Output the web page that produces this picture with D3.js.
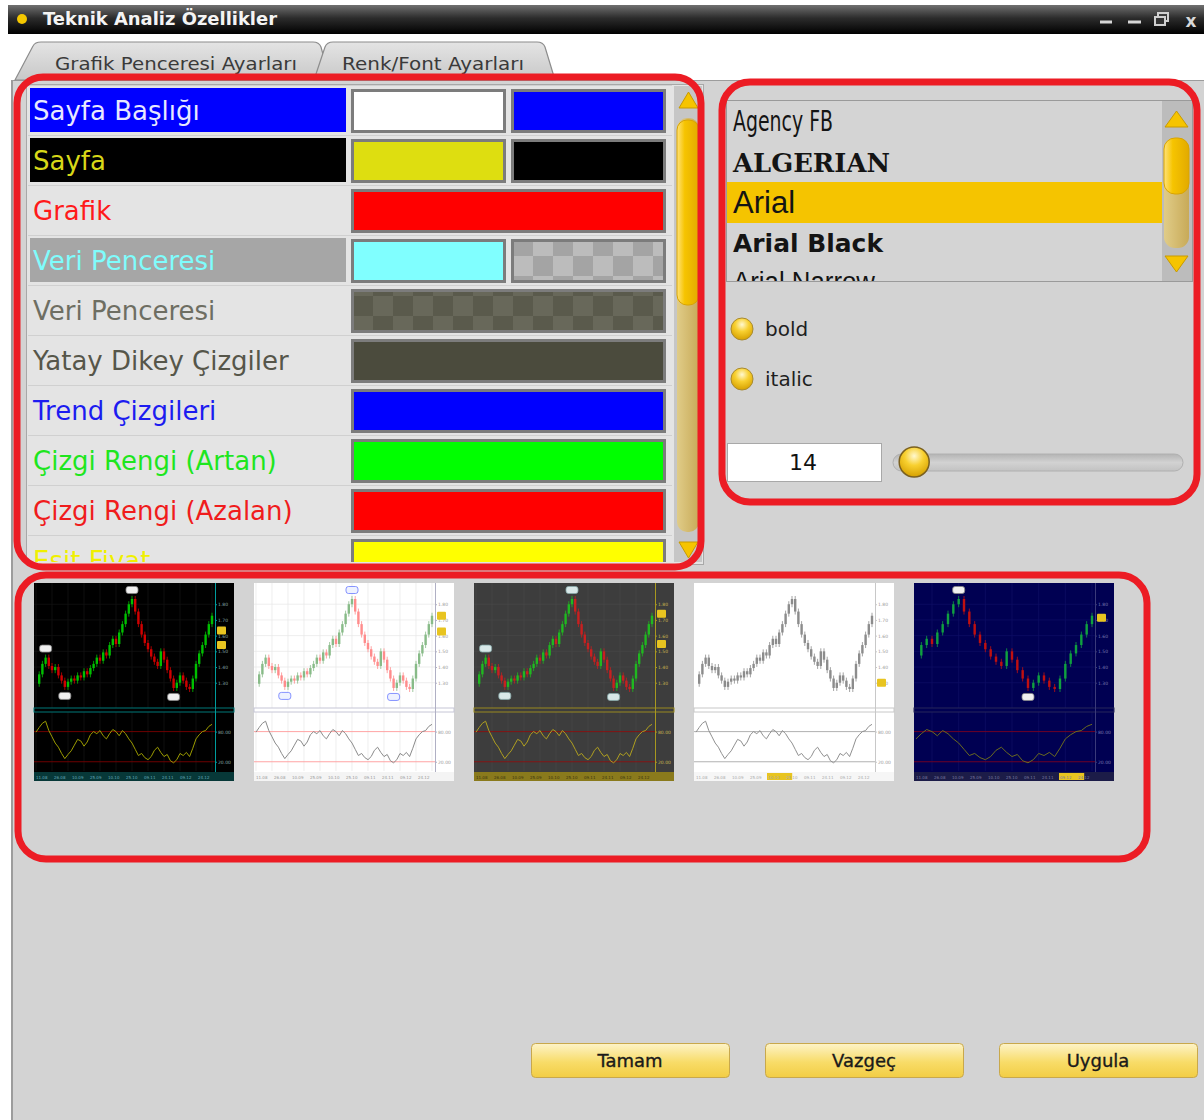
<!DOCTYPE html>
<html><head><meta charset="utf-8">
<script src="https://cdn.jsdelivr.net/npm/d3@7"></script>
<style>body{margin:0;background:#fff}svg{display:block}</style>
</head><body>
<svg id="c" width="1204" height="1120"></svg>
<script>
// ---------------- DATA ----------------
const windowTitle = "Teknik Analiz Özellikler";
const tabLabels = ["Grafik Penceresi Ayarları", "Renk/Font Ayarları"];
const rowLabels = ["Sayfa Başlığı","Sayfa","Grafik","Veri Penceresi","Veri Penceresi","Yatay Dikey Çizgiler","Trend Çizgileri","Çizgi Rengi (Artan)","Çizgi Rengi (Azalan)","Eşit Fiyat"];
const rowTextColors = ["#e8e8ff","#d8d818","#ff1a1a","#7ffcfc","#6e6e62","#56564a","#1c1cf0","#1ee61e","#f01c1c","#f0f000"];
const rowLabelFills = ["#0000ff","#000000",null,"#a6a6a6",null,null,null,null,null,null];
const swatchA = ["#ffffff","#dede10","#ff0000","#80ffff","url(#checkDark)","#4b4b3d","#0000ff","#00ff00","#ff0000","#ffff00"];
const swatchB = ["#0000ff","#000000",null,"url(#checkLight)",null,null,null,null,null,null];
const fontNames = ["Agency FB","ALGERIAN","Arial","Arial Black","Arial Narrow"];
const selectedFont = "Arial";
const styleOptions = ["bold","italic"];
const fontSizeValue = 14;
const fontSizeRange = [12, 96];
const buttonLabels = ["Tamam","Vazgeç","Uygula"];

const price = [19,28,38,44,36,32,35,27,22,16,21,24,22,27,25,31,28,34,38,44,41,49,46,56,62,57,68,76,86,95,100,88,76,66,58,52,45,40,36,50,42,32,24,15,20,27,22,16,14,24,38,48,56,66,76,84];
const oscillator = [69,78,86,90,72,60,48,40,28,18,26,33,44,55,52,42,50,64,70,66,72,62,56,66,74,70,62,72,66,56,48,36,24,28,20,16,22,34,40,30,22,26,14,10,16,28,24,30,22,38,56,64,70,72,80,84];
const oscLevels = [70, 12];
const oscLevelLabels = ["80.00","20.00"];
const priceTickValues = [20,35,50,65,80,95];
const priceTickLabels = ["1.30","1.40","1.50","1.60","1.70","1.80"];
const dateLabels = ["11.08","26.08","10.09","25.09","10.10","25.10","09.11","24.11","09.12","24.12"];

const thumbThemes = [
  {bg:"#000000",grid:"#141414",up:"#00c000",down:"#d00000",sep:"#007878",axis:"#009c9c",osc:"#9c9c00",ref:"#7a0000",strip:"#073838",stripText:"#6ab",text:"#8aa",mark:"#f0f0f0",markStroke:"#888",start:0,markers:[3,9,30,43],tags:[70,56],hl:-1},
  {bg:"#ffffff",grid:"#e6e6e6",up:"#88bb88",down:"#ff8c8c",sep:"#c6c6d6",axis:"#b0b0c4",osc:"#8a8a8a",ref:"#ff9a9a",strip:"#f4f4f4",stripText:"#999",text:"#999",mark:"#eef2ff",markStroke:"#6a7aff",start:0,markers:[9,30,43],tags:[84,69],hl:-1},
  {bg:"#3d3d3d",grid:"#474747",up:"#20b820",down:"#c82020",sep:"#9a8a20",axis:"#a89820",osc:"#b0a020",ref:"#8a1010",strip:"#8a7a1c",stripText:"#3a3410",text:"#c8b850",mark:"#d8e8e8",markStroke:"#8aa",start:0,markers:[3,9,30,43],tags:[86,57],hl:-1},
  {bg:"#ffffff",grid:null,up:"#8c8c8c",down:"#8c8c8c",sep:"#c8c8c8",axis:"#c8c8c8",osc:"#909090",ref:"#a8a8a8",strip:"#f6f6f6",stripText:"#aaa",text:"#999",mark:"#fff",markStroke:"#999",start:0,markers:[],tags:[20],hl:4},
  {bg:"#000052",grid:"#0e0e66",up:"#10a040",down:"#c01010",sep:"#26265a",axis:"#3a3a7a",osc:"#6a6a20",ref:"#7a0020",strip:"#1c1c48",stripText:"#7a7aa0",text:"#7a7ab0",mark:"#f0f0f0",markStroke:"#888",start:22,markers:[30,43],tags:[82],hl:8}
];

// ---------------- HELPERS ----------------
const svg = d3.select("#c");
const defs = svg.append("defs");
function linGrad(id, stops, horiz) {
  const g = defs.append("linearGradient").attr("id", id)
    .attr("x1",0).attr("y1",0).attr("x2",horiz?1:0).attr("y2",horiz?0:1);
  stops.forEach(([o,c]) => g.append("stop").attr("offset",o).attr("stop-color",c));
}
linGrad("gTitle",[[0,"#707070"],[0.45,"#2c2c2c"],[1,"#000000"]]);
linGrad("gTab",[[0,"#e4e4e4"],[1,"#c8c8c8"]]);
linGrad("gBtn",[[0,"#fdf3c8"],[0.55,"#f8dc68"],[1,"#f2cd44"]]);
linGrad("gThumb",[[0,"#ffe27a"],[0.35,"#f6c400"],[1,"#e2aa00"]],true);
linGrad("gTrack",[[0,"#e0cc88"],[1,"#c8aa58"]],true);
linGrad("gSlider",[[0,"#b4b4b4"],[0.5,"#d2d2d2"],[1,"#c2c2c2"]]);
const rg = defs.append("radialGradient").attr("id","gKnob").attr("cx",0.5).attr("cy",0.3).attr("r",0.7);
[[0,"#fff8d0"],[0.45,"#f8d030"],[1,"#d6a000"]].forEach(([o,c])=>rg.append("stop").attr("offset",o).attr("stop-color",c));

function checker(id, c1, c2, x0, y0) {
  const p = defs.append("pattern").attr("id",id).attr("patternUnits","userSpaceOnUse")
    .attr("x",x0).attr("y",y0).attr("width",40).attr("height",40);
  p.append("rect").attr("width",40).attr("height",40).attr("fill",c1);
  p.append("rect").attr("x",20).attr("width",20).attr("height",20).attr("fill",c2);
  p.append("rect").attr("y",20).attr("width",20).attr("height",20).attr("fill",c2);
}
checker("checkLight","#a4a4a4","#bcbcbc",513,241);
checker("checkDark","#5a5a4c","#68685a",353,291);

// ---------------- WINDOW ----------------
svg.append("rect").attr("width",1204).attr("height",1120).attr("fill","#ffffff");
svg.append("rect").attr("x",8).attr("y",5).attr("width",1196).attr("height",29).attr("fill","url(#gTitle)");
svg.append("circle").attr("cx",22).attr("cy",19).attr("r",5).attr("fill","#f5c800");
svg.append("text").attr("x",43).attr("y",25).text(windowTitle)
  .attr("font-family","DejaVu Sans").attr("font-weight","bold").attr("font-size",17).attr("fill","#f4f4f4")
  .attr("textLength",234).attr("lengthAdjust","spacingAndGlyphs");
// window controls
[[1100,1112],[1128,1141]].forEach(([a,b])=>svg.append("line").attr("x1",a).attr("x2",b).attr("y1",22).attr("y2",22).attr("stroke","#d8d8d8").attr("stroke-width",3));
svg.append("rect").attr("x",1158).attr("y",13).attr("width",10).attr("height",8).attr("fill","none").attr("stroke","#d0d0d0").attr("stroke-width",2);
svg.append("rect").attr("x",1155).attr("y",17).attr("width",10).attr("height",8).attr("fill","#333").attr("stroke","#d0d0d0").attr("stroke-width",2);
svg.append("text").attr("x",1191).attr("y",27).attr("text-anchor","middle").text("x")
  .attr("font-family","DejaVu Sans").attr("font-weight","bold").attr("font-size",17).attr("fill","#d8d8d8");

// main panel
svg.append("rect").attr("x",12).attr("y",80).attr("width",1192).attr("height",1040).attr("fill","#d3d3d3");
svg.append("line").attr("x1",12).attr("x2",1204).attr("y1",80.5).attr("y2",80.5).attr("stroke","#9c9c9c");
svg.append("line").attr("x1",12).attr("x2",12).attr("y1",80).attr("y2",1120).attr("stroke","#9c9c9c").attr("stroke-width",2);

// tabs
const tabPaths = ["M15,80 L33,46 Q35,42 41,42 L313,42 Q319,42 321,47 L330,80 Z",
                  "M314,80 L325,47 Q327,42 333,42 L537,42 Q543,42 545,47 L555,80 Z"];
const tabTextX = [55, 342];
const tabTextLen = [242, 182];
tabLabels.forEach((t,i)=>{
  svg.append("path").attr("d",tabPaths[i]).attr("fill","url(#gTab)").attr("stroke","#8c8c8c").attr("stroke-width",1.2);
  svg.append("text").attr("x",tabTextX[i]).attr("y",70).text(t)
    .attr("font-family","DejaVu Sans").attr("font-size",18).attr("fill","#3a3a3a")
    .attr("textLength",tabTextLen[i]).attr("lengthAdjust","spacingAndGlyphs");
});

// ---------------- COLOR LIST ----------------
const listClip = defs.append("clipPath").attr("id","listClip");
listClip.append("rect").attr("x",27).attr("y",85).attr("width",646).attr("height",477);
svg.append("rect").attr("x",26.5).attr("y",84.5).attr("width",677).attr("height",480).attr("fill","#e4e4e4").attr("stroke","#a8a8a8");
const rowY = d3.scaleBand().domain(d3.range(rowLabels.length)).range([85, 85 + 50*rowLabels.length]);
const list = svg.append("g").attr("clip-path","url(#listClip)");
const rows = list.selectAll("g.row").data(rowLabels).join("g").attr("class","row")
  .attr("transform",(d,i)=>`translate(0,${rowY(i)})`);
rows.each(function(d,i){
  const g = d3.select(this);
  g.append("line").attr("x1",28).attr("x2",672).attr("y1",0.5).attr("y2",0.5).attr("stroke","#d0d0d0");
  if (rowLabelFills[i]) g.append("rect").attr("x",30).attr("y",3).attr("width",316).attr("height",44).attr("fill",rowLabelFills[i]);
  const wA = swatchB[i] ? 155 : 315;
  g.append("rect").attr("x",352.5).attr("y",5.5).attr("width",wA-3).attr("height",41)
    .attr("fill",swatchA[i]).attr("stroke","#7c7c7c").attr("stroke-width",3);
  if (swatchB[i]) g.append("rect").attr("x",512.5).attr("y",5.5).attr("width",152).attr("height",41)
    .attr("fill",swatchB[i]).attr("stroke","#7c7c7c").attr("stroke-width",3);
  g.append("text").attr("x",33).attr("y",35).text(d)
    .attr("font-family","DejaVu Sans").attr("font-size",26).attr("fill",rowTextColors[i]);
});
// scrollbar (left list)
svg.append("rect").attr("x",674).attr("y",86).attr("width",28).attr("height",476).attr("fill","#c6c6c6");
svg.append("rect").attr("x",677).attr("y",118).attr("width",22).attr("height",414).attr("rx",10).attr("fill","url(#gTrack)");
svg.append("rect").attr("x",677).attr("y",120).attr("width",22).attr("height",185).attr("rx",10).attr("fill","url(#gThumb)").attr("stroke","#d9a400");
svg.append("path").attr("d","M679,108 L698,108 L688.5,92 Z").attr("fill","#f6c400").attr("stroke","#c89a00");
svg.append("path").attr("d","M679,542 L698,542 L688.5,558 Z").attr("fill","#f6c400").attr("stroke","#c89a00");

// ---------------- FONT PANEL ----------------
const fClip = defs.append("clipPath").attr("id","fClip");
fClip.append("rect").attr("x",727).attr("y",101).attr("width",435).attr("height",180);
svg.append("rect").attr("x",726.5).attr("y",100.5).attr("width",466).attr("height",181).attr("fill","#d4d4d4").attr("stroke","#9a9a9a");
const fontY = d3.scaleBand().domain(fontNames).range([101, 101 + 41*fontNames.length]);
const fontStyles = {
  "Agency FB": {family:"DejaVu Sans", size:28, weight:"normal", len:100, dy:30},
  "ALGERIAN": {family:"DejaVu Serif", size:26, weight:"bold", len:157, dy:30},
  "Arial": {family:"Liberation Sans", size:31, weight:"normal", len:null, dy:30},
  "Arial Black": {family:"DejaVu Sans", size:24, weight:"bold", len:150, dy:28},
  "Arial Narrow": {family:"Liberation Sans", size:27, weight:"normal", len:142, dy:26}
};
const fl = svg.append("g").attr("clip-path","url(#fClip)");
fl.append("rect").attr("x",727).attr("y",fontY(selectedFont)-1).attr("width",435).attr("height",41).attr("fill","#f5c400");
fontNames.forEach(f=>{
  const s = fontStyles[f];
  const t = fl.append("text").attr("x",733).attr("y",fontY(f)+s.dy).text(f)
    .attr("font-family",s.family).attr("font-size",s.size).attr("font-weight",s.weight).attr("fill","#141414");
  if (s.len) t.attr("textLength",s.len).attr("lengthAdjust","spacingAndGlyphs");
});
// font list scrollbar
svg.append("rect").attr("x",1162).attr("y",101).attr("width",30).attr("height",180).attr("fill","#bcbcbc");
svg.append("rect").attr("x",1164).attr("y",138).attr("width",25).attr("height",110).attr("rx",11).attr("fill","url(#gTrack)");
svg.append("rect").attr("x",1164).attr("y",138).attr("width",25).attr("height",56).attr("rx",11).attr("fill","url(#gThumb)").attr("stroke","#d9a400");
svg.append("path").attr("d","M1165,127 L1188,127 L1176.5,111 Z").attr("fill","#f6c400").attr("stroke","#c89a00");
svg.append("path").attr("d","M1165,256 L1188,256 L1176.5,272 Z").attr("fill","#f6c400").attr("stroke","#c89a00");

// style options
styleOptions.forEach((o,i)=>{
  const cy = 329 + i*50;
  svg.append("circle").attr("cx",742).attr("cy",cy).attr("r",11).attr("fill","url(#gKnob)").attr("stroke","#a88a30");
  svg.append("text").attr("x",765).attr("y",cy+7).text(o).attr("font-family","DejaVu Sans").attr("font-size",20).attr("fill","#1e1e1e");
});
// size box + slider
svg.append("rect").attr("x",727.5).attr("y",443.5).attr("width",154).attr("height",38).attr("fill","#ffffff").attr("stroke","#a8a8a8");
svg.append("text").attr("x",803).attr("y",470).attr("text-anchor","middle").text(String(fontSizeValue))
  .attr("font-family","DejaVu Sans").attr("font-size",22).attr("fill","#111");
const sx = d3.scaleLinear().domain(fontSizeRange).range([908,1168]);
svg.append("rect").attr("x",893).attr("y",454).attr("width",290).attr("height",17).attr("rx",8.5).attr("fill","url(#gSlider)").attr("stroke","#b0b0b0");
svg.append("circle").attr("cx",sx(fontSizeValue)).attr("cy",462).attr("r",15).attr("fill","url(#gKnob)").attr("stroke","#7a6020").attr("stroke-width",1.5);

// ---------------- THUMBNAILS ----------------
function drawThumb(g, t) {
  const W=200, H=198, pw=181, pBot=125, oTop=130, oBot=188, sTop=189;
  const n = price.length - 1, s = t.start;
  const idx = d3.range(s, n + 1);
  const x = d3.scaleLinear().domain([s, n]).range([2, pw - 3]);
  const y = d3.scaleLinear().domain(d3.extent(idx, i => price[i])).range([106, 16]);
  const yo = d3.scaleLinear().domain([0, 100]).range([oBot - 3, oTop + 3]);
  g.append("rect").attr("width",W).attr("height",H).attr("fill",t.bg);
  const ticksV = priceTickValues.filter(v => v >= y.domain()[0] && v <= y.domain()[1]);
  if (t.grid) {
    g.append("g").selectAll("line").data(x.ticks(10)).join("line")
      .attr("x1",x).attr("x2",x).attr("y1",0).attr("y2",oBot).attr("stroke",t.grid).attr("stroke-width",0.7);
    g.append("g").selectAll("line").data(ticksV).join("line")
      .attr("x1",0).attr("x2",pw).attr("y1",y).attr("y2",y).attr("stroke",t.grid).attr("stroke-width",0.7);
  }
  const seg = idx.slice(1);
  const col = i => price[i] >= price[i-1] ? t.up : t.down;
  g.append("g").selectAll("line").data(seg).join("line")
    .attr("x1",i=>x(i)).attr("x2",i=>x(i))
    .attr("y1",i=>y(Math.max(price[i],price[i-1]))-3).attr("y2",i=>y(Math.min(price[i],price[i-1]))+3)
    .attr("stroke",col).attr("stroke-width",0.8);
  g.append("g").selectAll("rect").data(seg).join("rect")
    .attr("x",i=>x(i)-1.2).attr("width",2.4)
    .attr("y",i=>y(Math.max(price[i],price[i-1])))
    .attr("height",i=>Math.max(1.5, Math.abs(y(price[i])-y(price[i-1]))))
    .attr("fill",col);
  // separator
  g.append("rect").attr("x",0).attr("y",pBot).attr("width",W).attr("height",4)
    .attr("fill",t.bg).attr("stroke",t.sep).attr("stroke-width",1);
  // oscillator
  g.append("g").selectAll("line").data(oscLevels).join("line")
    .attr("x1",0).attr("x2",pw).attr("y1",yo).attr("y2",yo).attr("stroke",t.ref).attr("stroke-width",0.9);
  g.append("path").datum(idx).attr("fill","none").attr("stroke",t.osc).attr("stroke-width",1)
    .attr("d", d3.line().x(i=>x(i)).y(i=>yo(oscillator[i])));
  // right axes
  g.append("line").attr("x1",pw+0.5).attr("x2",pw+0.5).attr("y1",0).attr("y2",sTop).attr("stroke",t.axis).attr("stroke-width",1);
  const ax = g.append("g").attr("transform",`translate(${pw},0)`)
    .call(d3.axisRight(y).tickValues(ticksV).tickFormat(v=>priceTickLabels[priceTickValues.indexOf(v)]).tickSize(2));
  const ax2 = g.append("g").attr("transform",`translate(${pw},0)`)
    .call(d3.axisRight(yo).tickValues(oscLevels).tickFormat((v,i)=>oscLevelLabels[i]).tickSize(2));
  [ax,ax2].forEach(a=>{
    a.select(".domain").remove();
    a.selectAll("line").attr("stroke",t.axis);
    a.selectAll("text").attr("fill",t.text).attr("font-size",4.5).attr("font-family","DejaVu Sans").attr("x",3);
  });
  // price tags
  t.tags.forEach(v=>{
    g.append("rect").attr("x",pw+2).attr("y",y(v)-4).attr("width",9).attr("height",8).attr("rx",1).attr("fill","#e8c420");
  });
  // date strip
  g.append("rect").attr("x",0).attr("y",sTop).attr("width",W).attr("height",H-sTop).attr("fill",t.strip);
  const dx = d3.scaleBand().domain(dateLabels).range([1,pw]);
  if (t.hl >= 0) g.append("rect").attr("x",dx(dateLabels[t.hl])).attr("y",sTop+1).attr("width",dx.bandwidth()*1.4).attr("height",7).attr("fill","#e8c420");
  g.append("g").selectAll("text").data(dateLabels).join("text")
    .attr("x",d=>dx(d)+1).attr("y",sTop+6.5).text(d=>d)
    .attr("font-size",4).attr("font-family","DejaVu Sans").attr("fill",t.stripText);
  // markers
  t.markers.filter(i=>i>=s).forEach(i=>{
    const peak = price[i] > price[i-1];
    const cy = y(price[i]) + (peak ? -9 : 9);
    g.append("rect").attr("x",x(i)-6).attr("y",cy-3.5).attr("width",12).attr("height",7).attr("rx",2.5)
      .attr("fill",t.mark).attr("stroke",t.markStroke).attr("stroke-width",0.8);
  });
}
thumbThemes.forEach((t,i)=>{
  const g = svg.append("g").attr("transform",`translate(${34 + i*220},583)`);
  drawThumb(g, t);
});

// ---------------- BUTTONS ----------------
buttonLabels.forEach((b,i)=>{
  const bx = 531 + i*234;
  svg.append("rect").attr("x",bx+0.5).attr("y",1043.5).attr("width",198).attr("height",34).attr("rx",4)
    .attr("fill","url(#gBtn)").attr("stroke","#c8a84c");
  svg.append("text").attr("x",bx+99).attr("y",1067).attr("text-anchor","middle").text(b)
    .attr("font-family","DejaVu Sans").attr("font-size",18).attr("fill","#1a1a1a")
    .attr("stroke","#1a1a1a").attr("stroke-width",0.35);
});

// ---------------- RED ANNOTATIONS ----------------
const redBoxes = [[17,77,684,490,26],[722,82,475,420,28],[18,575,1129,284,28]];
svg.append("g").selectAll("rect").data(redBoxes).join("rect")
  .attr("x",d=>d[0]).attr("y",d=>d[1]).attr("width",d=>d[2]).attr("height",d=>d[3]).attr("rx",d=>d[4])
  .attr("fill","none").attr("stroke","#ec1c24").attr("stroke-width",7);
</script>
</body></html>
